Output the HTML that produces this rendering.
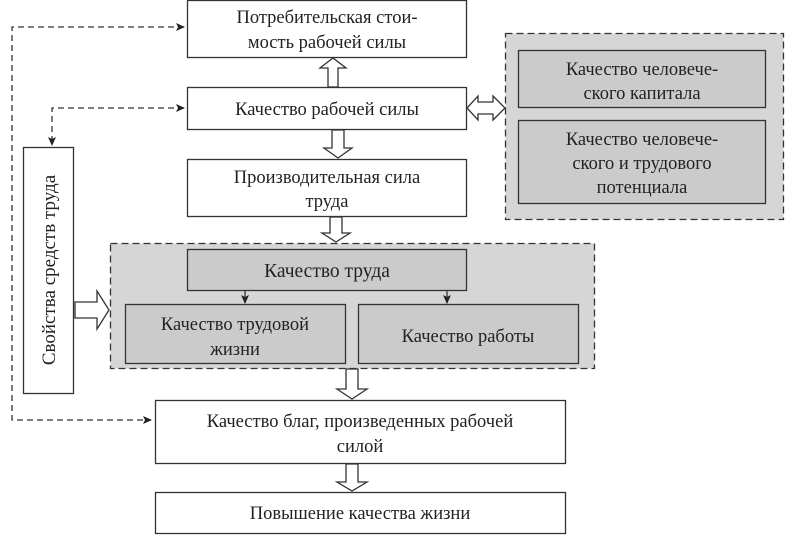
<!DOCTYPE html>
<html><head><meta charset="utf-8"><style>
html,body{margin:0;padding:0;background:#fff;}
svg{display:block;font-family:"Liberation Serif","DejaVu Serif",serif;}
</style></head><body>
<svg width="785" height="536" viewBox="0 0 785 536" xmlns="http://www.w3.org/2000/svg">
<defs>
<marker id="ah" markerWidth="9" markerHeight="8" refX="8" refY="4" orient="auto-start-reverse" markerUnits="userSpaceOnUse"><path d="M0,0 L9,4 L0,8 L2,4 Z" fill="#222"/></marker>
</defs>
<g fill="none" stroke="#333" stroke-width="1.3">
<rect x="505.5" y="33.5" width="278" height="186" fill="#d6d6d6" stroke-dasharray="7,4"/>
<rect x="110.5" y="243.5" width="484" height="125" fill="#d6d6d6" stroke-dasharray="7,4"/>
<rect x="187.5" y="0.5" width="279" height="57" fill="#fff"/>
<rect x="187.5" y="87.5" width="279" height="42" fill="#fff"/>
<rect x="187.5" y="159.5" width="279" height="57" fill="#fff"/>
<rect x="518.5" y="50.5" width="247" height="57" fill="#cbcbcb"/>
<rect x="518.5" y="120.5" width="247" height="83" fill="#cbcbcb"/>
<rect x="187.5" y="249.5" width="279" height="41" fill="#cbcbcb"/>
<rect x="125.5" y="304.5" width="220" height="59" fill="#cbcbcb"/>
<rect x="358.5" y="304.5" width="220" height="59" fill="#cbcbcb"/>
<rect x="23.5" y="147.5" width="50" height="246" fill="#fff"/>
<rect x="155.5" y="400.5" width="410" height="63" fill="#fff"/>
<rect x="155.5" y="492.5" width="410" height="41" fill="#fff"/>
<path d="M184,27 H12 V420 H151" stroke-dasharray="6,4" marker-start="url(#ah)" marker-end="url(#ah)"/>
<path d="M184,108 H52 V145" stroke-dasharray="6,4" marker-start="url(#ah)" marker-end="url(#ah)"/>
<path d="M245,291 V303" marker-end="url(#ah)"/>
<path d="M447,291 V303" marker-end="url(#ah)"/>
<path d="M328,87 V68 H320 L333,58 L346,68 H338 V87 Z" fill="#fff"/>
<path d="M332,130 V148 H324 L338,158 L352,148 H344 V130 Z" fill="#fff"/>
<path d="M330,217 V233 H322 L336,242 L350,233 H342 V217 Z" fill="#fff"/>
<path d="M346,369 V389 H337 L352,399 L367,389 H358 V369 Z" fill="#fff"/>
<path d="M346,464 V482 H337 L352,491 L367,482 H358 V464 Z" fill="#fff"/>
<path d="M467,108 L478,96 V102 H493 V96 L505,108 L493,120 V114 H478 V120 Z" fill="#fff"/>
<path d="M75,302 H97 V291 L109,310 L97,329 V318 H75 Z" fill="#fff"/>
</g>
<g fill="#222" font-size="18.5" text-anchor="middle">
<text x="327" y="23">Потребительская стои-</text>
<text x="327" y="48">мость рабочей силы</text>
<text x="327" y="115">Качество рабочей силы</text>
<text x="327" y="183">Производительная сила</text>
<text x="327" y="207">труда</text>
<text x="642" y="75">Качество человече-</text>
<text x="642" y="99">ского капитала</text>
<text x="642" y="145">Качество человече-</text>
<text x="642" y="169">ского и трудового</text>
<text x="642" y="193">потенциала</text>
<text x="327" y="277" font-size="19.5">Качество труда</text>
<text x="235" y="330">Качество трудовой</text>
<text x="235" y="355">жизни</text>
<text x="468" y="342">Качество работы</text>
<text x="360" y="427">Качество благ, произведенных рабочей</text>
<text x="360" y="452">силой</text>
<text x="360" y="519">Повышение качества жизни</text>
<text transform="translate(55,270) rotate(-90)" font-size="19">Свойства средств труда</text>
</g>
</svg>
</body></html>
